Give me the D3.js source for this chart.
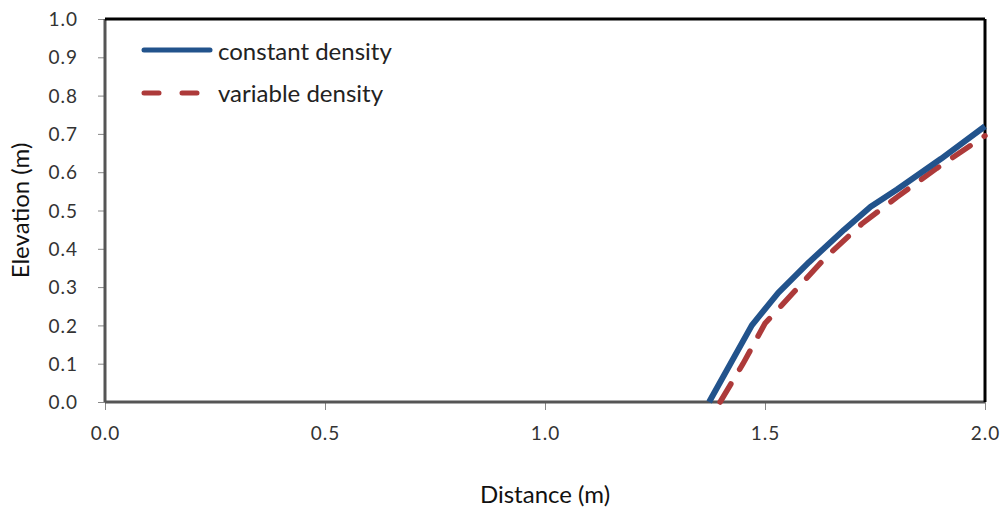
<!DOCTYPE html>
<html>
<head>
<meta charset="utf-8">
<script src="https://cdn.jsdelivr.net/npm/d3@7"></script>
<style>
  body { margin: 0; background: #fff; }
  svg text { font-family: Lato, "Open Sans", sans-serif; }
</style>
</head>
<body>
<div id="chart"></div>
<script>
"use strict";

// series values: [distance, elevation]
const constantDensity = [
    [1.373, 0.0], [1.47, 0.20], [1.53, 0.285], [1.60, 0.365],
    [1.68, 0.45], [1.74, 0.51], [1.80, 0.555], [1.90, 0.635], [2.0, 0.72]
];
const variableDensity = [
    [1.398, 0.0], [1.45, 0.10], [1.50, 0.205], [1.58, 0.305],
    [1.64, 0.38], [1.72, 0.465], [1.80, 0.535], [1.89, 0.61], [2.0, 0.695]
];
const xTicks = [0.0, 0.5, 1.0, 1.5, 2.0];
const yTicks = [0.0, 0.1, 0.2, 0.3, 0.4, 0.5, 0.6, 0.7, 0.8, 0.9, 1.0];
const seriesNames = ["constant density", "variable density"];

const width = 1006, height = 510;
const margin = { top: 19, right: 21, bottom: 108, left: 105 };
const innerW = width - margin.left - margin.right;
const innerH = height - margin.top - margin.bottom;

const svg = d3.select("#chart").append("svg")
    .attr("width", width)
    .attr("height", height);

const g = svg.append("g")
    .attr("transform", `translate(${margin.left},${margin.top})`);

const x = d3.scaleLinear().domain([0, 2]).range([0, innerW]);
const y = d3.scaleLinear().domain([0, 1]).range([innerH, 0]);

// axes
const xAxis = g.append("g")
    .attr("transform", `translate(0,${innerH})`)
    .call(d3.axisBottom(x).tickValues(xTicks).tickFormat(d3.format(".1f")).tickSize(8).tickPadding(17));
const yAxis = g.append("g")
    .call(d3.axisLeft(y).tickValues(yTicks).tickFormat(d3.format(".1f")).tickSize(7).tickPadding(20));

[xAxis, yAxis].forEach(a => {
    a.select(".domain").remove();
    a.selectAll(".tick line").attr("stroke", "#888").attr("stroke-width", 1);
    a.selectAll(".tick text")
        .attr("fill", "#333")
        .style("font-size", "19px")
        .style("letter-spacing", "1px");
});
yAxis.selectAll(".tick text").attr("dy", "0.35em");

// frame: left/bottom grey, top/right black
g.append("line").attr("x1", 0).attr("x2", 0).attr("y1", 0).attr("y2", innerH)
    .attr("stroke", "#555").attr("stroke-width", 3);
g.append("line").attr("x1", 0).attr("x2", innerW).attr("y1", innerH).attr("y2", innerH)
    .attr("stroke", "#555").attr("stroke-width", 3);
g.append("line").attr("x1", 0).attr("x2", innerW).attr("y1", 0).attr("y2", 0)
    .attr("stroke", "#000").attr("stroke-width", 3);
g.append("line").attr("x1", innerW).attr("x2", innerW).attr("y1", 0).attr("y2", innerH)
    .attr("stroke", "#000").attr("stroke-width", 3);

// lines
const line = d3.line().x(d => x(d[0])).y(d => y(d[1]));
const blue = "#22538c", red = "#ad3a3a";

g.append("path").datum(variableDensity)
    .attr("d", line)
    .attr("fill", "none")
    .attr("stroke", red)
    .attr("stroke-width", 5.5)
    .attr("stroke-dasharray", "21,17")
    .attr("stroke-linecap", "round");

g.append("path").datum(constantDensity)
    .attr("d", line)
    .attr("fill", "none")
    .attr("stroke", blue)
    .attr("stroke-width", 6)
    .attr("stroke-linejoin", "round");

// legend
const legend = svg.append("g").attr("transform", "translate(144,0)");
legend.append("line").attr("x1", 0).attr("x2", 66).attr("y1", 50).attr("y2", 50)
    .attr("stroke", blue).attr("stroke-width", 5).attr("stroke-linecap", "round");
legend.append("line").attr("x1", 0).attr("x2", 53).attr("y1", 93).attr("y2", 93)
    .attr("stroke", red).attr("stroke-width", 5).attr("stroke-linecap", "round")
    .attr("stroke-dasharray", "15,23");
legend.selectAll("text.legend-label")
    .data(seriesNames)
    .enter().append("text")
    .attr("class", "legend-label")
    .attr("x", 74)
    .attr("y", (d, i) => 60 + i * 42)
    .style("font-size", "24px")
    .attr("fill", "#222")
    .text(d => d);

// axis titles
svg.append("text")
    .attr("x", margin.left + innerW / 2)
    .attr("y", 503)
    .attr("text-anchor", "middle")
    .style("font-size", "24px")
    .attr("fill", "#111")
    .text("Distance (m)");

svg.append("text")
    .attr("transform", `translate(29,${margin.top + innerH / 2}) rotate(-90)`)
    .attr("text-anchor", "middle")
    .style("font-size", "24px")
    .attr("fill", "#111")
    .text("Elevation (m)");
</script>
</body>
</html>
